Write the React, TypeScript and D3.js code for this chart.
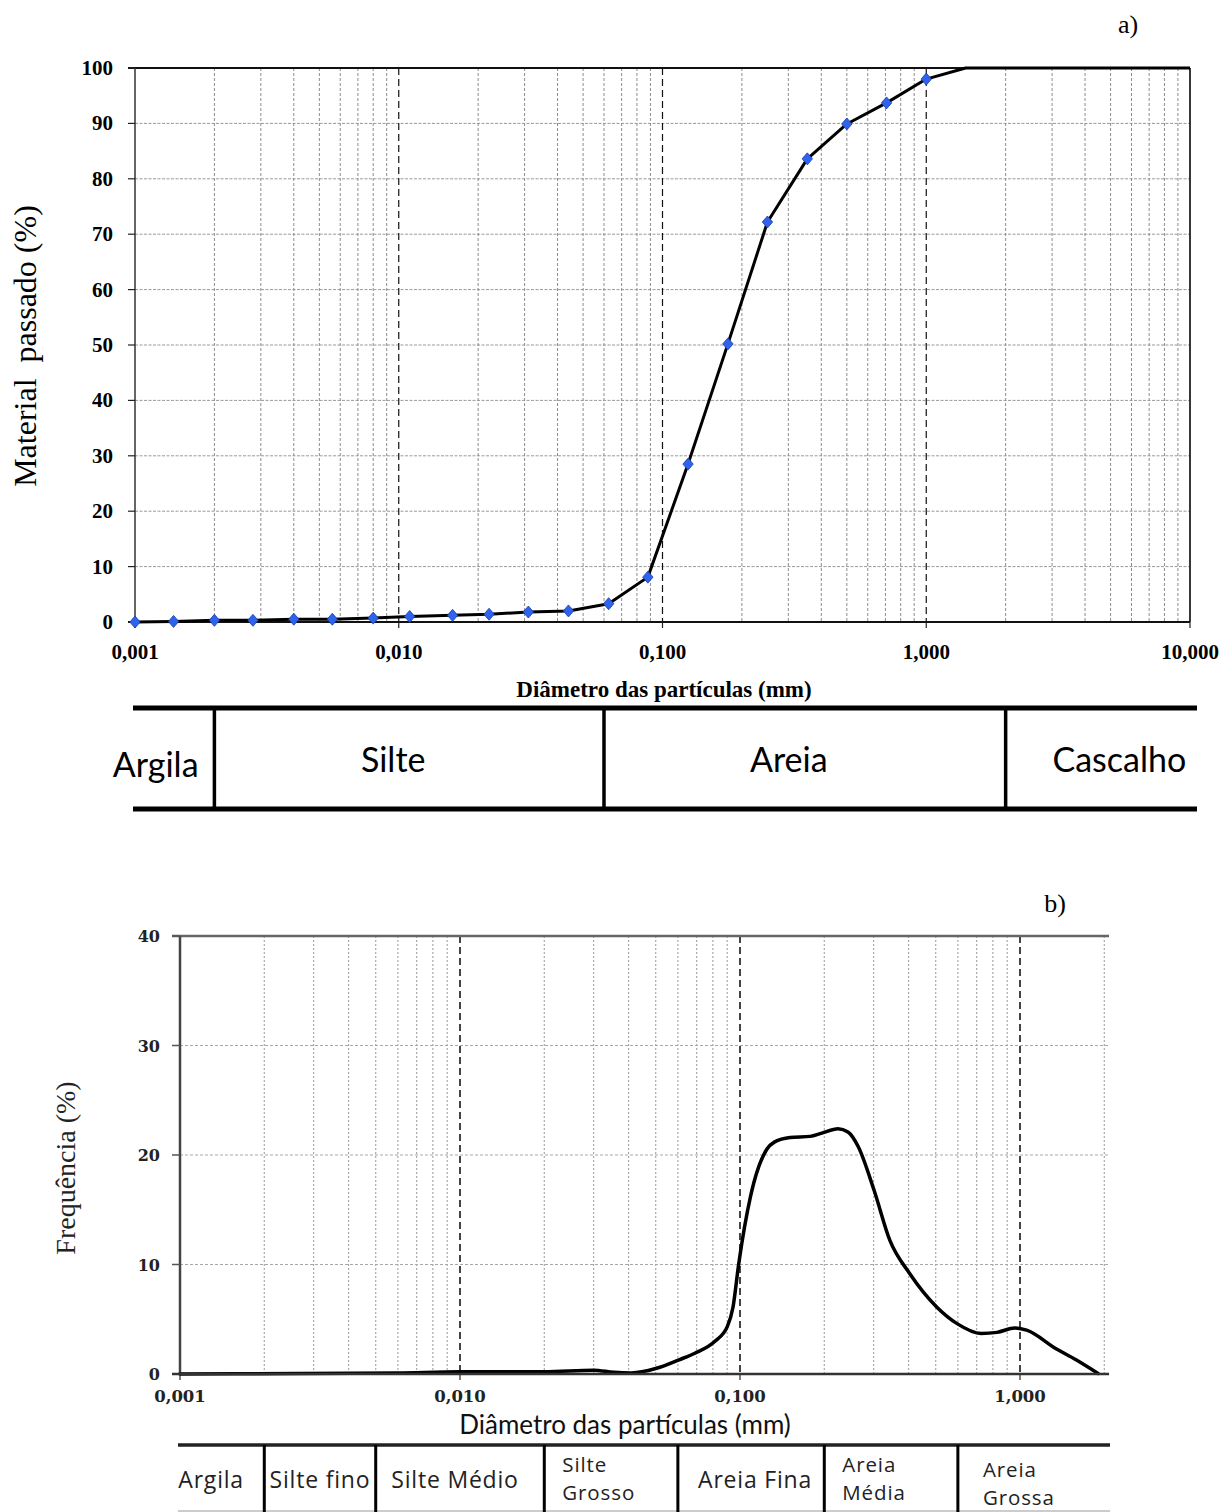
import React from 'react';
import * as d3 from 'd3';

// ---------- Chart a) : cumulative grading curve ----------
const sieveSizes = [0.001, 0.0014, 0.002, 0.0028, 0.004, 0.0056, 0.008, 0.011, 0.016, 0.022, 0.031, 0.044, 0.0625, 0.088, 0.125, 0.177, 0.25, 0.354, 0.5, 0.707, 1.0];
const percentPassing = [0, 0.1, 0.3, 0.3, 0.5, 0.5, 0.7, 1.0, 1.2, 1.4, 1.8, 2.0, 3.3, 8.1, 28.5, 50.2, 72.2, 83.6, 89.9, 93.7, 98.0];
const tailSizes = [1.0, 1.41, 10];
const tailPercent = [98.0, 100, 100];
const yTicksA = [0, 10, 20, 30, 40, 50, 60, 70, 80, 90, 100];
const xTicksA = [0.001, 0.01, 0.1, 1, 10];
const classesA = ['Argila', 'Silte', 'Areia', 'Cascalho'];
const limitsA = [0.002, 0.06, 2];

// ---------- Chart b) : frequency curve ----------
const freqSizes = [0.001, 0.0027, 0.006, 0.01, 0.02, 0.03, 0.0355, 0.041, 0.05, 0.0606, 0.069, 0.0814, 0.09, 0.0944, 0.099, 0.109, 0.1245, 0.133, 0.151, 0.178, 0.196, 0.224, 0.243, 0.264, 0.301, 0.343, 0.403, 0.505, 0.596, 0.726, 0.828, 0.957, 1.056, 1.345, 1.585, 1.9];
const freqValues = [0.0, 0.05, 0.1, 0.2, 0.2, 0.35, 0.15, 0.1, 0.5, 1.3, 1.9, 3.0, 4.3, 6.1, 10.1, 16.2, 20.5, 21.2, 21.6, 21.7, 22.0, 22.4, 22.1, 20.8, 16.8, 12.2, 9.2, 6.1, 4.6, 3.7, 3.8, 4.2, 4.0, 2.3, 1.3, 0.05];
const yTicksB = [0, 10, 20, 30, 40];
const xTicksB = [0.001, 0.01, 0.1, 1];
const classesB = [['Argila'], ['Silte fino'], ['Silte Médio'], ['Silte', 'Grosso'], ['Areia Fina'], ['Areia', 'Média'], ['Areia', 'Grossa']];
const limitsB = [0.002, 0.005, 0.02, 0.06, 0.2, 0.6];

const W = 1223;
const H = 1512;
const SERIF = '"Liberation Serif", "Times New Roman", serif';
const SERIF_B = '"DejaVu Serif", serif';
const SANS = 'Lato, "Open Sans", sans-serif';
const SANS_W = '"Open Sans", Lato, sans-serif';

const fmt = (v: number) => d3.format('.3f')(v).replace('.', ',');

function minors(decades: number[], maxV: number) {
  const out: number[] = [];
  decades.forEach((d) => {
    for (let m = 2; m <= 9; m++) {
      const v = d * m;
      if (v <= maxV * 1.0001) out.push(v);
    }
  });
  return out;
}

const diamond = 'M0,-6L5.2,0L0,6L-5.2,0Z';

export default function App() {
  // scales chart a
  const ax = d3.scaleLog().domain([0.001, 10]).range([135, 1190]);
  const ay = d3.scaleLinear().domain([0, 100]).range([622, 68]);
  // scales chart b
  const bEnd = 2.08;
  const bx = d3.scaleLog().domain([0.001, bEnd]).range([180, 180 + 280 * Math.log10(bEnd / 0.001)]);
  const by = d3.scaleLinear().domain([0, 40]).range([1374, 936]);

  const lineA = d3.line<number>().x((d, i) => ax(sieveSizes[i])).y((d) => ay(d));
  const tailLine = d3.line<number>().x((d, i) => ax(tailSizes[i])).y((d) => ay(d));
  const lineB = d3
    .line<number>()
    .x((d, i) => bx(freqSizes[i]))
    .y((d) => by(d))
    .curve(d3.curveMonotoneX);

  const minorA = minors([0.001, 0.01, 0.1, 1], 10).filter((v) => v < 10);
  const minorB = minors([0.001, 0.01, 0.1, 1], bEnd);

  const aL = ax(0.001), aR = ax(10), aT = ay(100), aB = ay(0);
  const bL = bx(0.001), bR = bx(bEnd), bT = by(40), bB = by(0);

  // table a geometry
  const tAx0 = 133, tAx1 = 1197, tAy0 = 708, tAy1 = 809;
  const edgesA = [tAx0, ...limitsA.map((v) => ax(v)), tAx1];
  const labelShiftA = [-18, -16, -16, 18];

  // table b geometry
  const tBx0 = 178, tBx1 = 1110, tBy0 = 1445, tBy1 = 1511;
  const edgesB = [tBx0, ...limitsB.map((v) => bx(v)), tBx1];
  const labelShiftB = [-10, 0, -5, 0, 4, 0, 0];

  return (
    <svg width={W} height={H} style={{ position: 'absolute', left: 0, top: 0, background: '#fff' }}>
      <rect x={0} y={0} width={W} height={H} fill="#fff" />

      {/* ================= Chart a ================= */}
      <text x={1128} y={33} fontFamily={SERIF} fontSize={26} textAnchor="middle">a)</text>

      {/* horizontal grid */}
      {yTicksA.filter((t) => t > 0 && t < 100).map((t) => (
        <line key={'ha' + t} x1={aL} x2={aR} y1={ay(t)} y2={ay(t)} stroke="#9a9a9a" strokeWidth={1} strokeDasharray="3,1.5" />
      ))}
      {/* minor vertical grid */}
      {minorA.map((v) => (
        <line key={'va' + v} x1={ax(v)} x2={ax(v)} y1={aT} y2={aB} stroke="#8c8c8c" strokeWidth={1} strokeDasharray="3,2" />
      ))}
      {/* decade lines */}
      {xTicksA.filter((v) => v > 0.001 && v < 10).map((v) => (
        <line key={'da' + v} x1={ax(v)} x2={ax(v)} y1={aT} y2={aB} stroke="#111" strokeWidth={1.2} strokeDasharray="7,4" />
      ))}
      {/* frame */}
      <line x1={128} x2={aR} y1={aT} y2={aT} stroke="#111" strokeWidth={2} />
      <line x1={aR} x2={aR} y1={aT} y2={aB} stroke="#222" strokeWidth={1.8} />
      <line x1={aL} x2={aL} y1={aT} y2={aB} stroke="#333" strokeWidth={1.5} />
      <line x1={128} x2={aR} y1={aB} y2={aB} stroke="#111" strokeWidth={2} />
      {yTicksA.map((t) => (
        <line key={'yta' + t} x1={128} x2={aL} y1={ay(t)} y2={ay(t)} stroke="#222" strokeWidth={1.2} />
      ))}
      {xTicksA.map((v) => (
        <line key={'xta' + v} x1={ax(v)} x2={ax(v)} y1={aB} y2={aB + 6} stroke="#222" strokeWidth={1.2} />
      ))}
      {/* tick labels */}
      {yTicksA.map((t) => (
        <text key={'yla' + t} x={113} y={ay(t) + 7} fontFamily={SERIF} fontWeight="bold" fontSize={21} textAnchor="end">{t}</text>
      ))}
      {xTicksA.map((v) => (
        <text key={'xla' + v} x={ax(v)} y={659} fontFamily={SERIF} fontWeight="bold" fontSize={21} textAnchor="middle">{fmt(v)}</text>
      ))}
      {/* titles */}
      <text transform="translate(36,346) rotate(-90)" fontFamily={SERIF} fontSize={32} textAnchor="middle" style={{ whiteSpace: 'pre' }}>Material  passado (%)</text>
      <text x={664} y={697} fontFamily={SERIF} fontWeight="bold" fontSize={23} textAnchor="middle">Diâmetro das partículas (mm)</text>

      {/* curve */}
      <path d={tailLine(tailPercent) || ''} fill="none" stroke="#000" strokeWidth={3} strokeLinejoin="round" />
      <path d={lineA(percentPassing) || ''} fill="none" stroke="#000" strokeWidth={3} strokeLinejoin="round" />
      {percentPassing.map((p, i) => (
        <path key={'mk' + i} d={diamond} transform={`translate(${ax(sieveSizes[i])},${ay(p)})`} fill="#2e63f0" stroke="#1b3b9e" strokeWidth={0.8} />
      ))}

      {/* table a */}
      <line x1={tAx0} x2={tAx1} y1={tAy0} y2={tAy0} stroke="#000" strokeWidth={5} />
      <line x1={tAx0} x2={tAx1} y1={tAy1} y2={tAy1} stroke="#000" strokeWidth={5} />
      {limitsA.map((v) => (
        <line key={'tla' + v} x1={ax(v)} x2={ax(v)} y1={tAy0} y2={tAy1} stroke="#000" strokeWidth={3.5} />
      ))}
      {classesA.map((c, i) => (
        <text key={'ca' + c} x={(edgesA[i] + edgesA[i + 1]) / 2 + labelShiftA[i]} y={i === 0 ? 777 : 772} fontFamily={SANS} fontSize={34} textAnchor="middle" fill="#000">{c}</text>
      ))}

      {/* ================= Chart b ================= */}
      <text x={1055} y={912} fontFamily={SERIF} fontSize={26} textAnchor="middle">b)</text>

      {yTicksB.filter((t) => t > 0 && t < 40).map((t) => (
        <line key={'hb' + t} x1={bL} x2={bR} y1={by(t)} y2={by(t)} stroke="#a8a8a8" strokeWidth={1.2} strokeDasharray="3,2" />
      ))}
      {minorB.map((v) => (
        <line key={'vb' + v} x1={bx(v)} x2={bx(v)} y1={bT} y2={bB} stroke="#a8a8a8" strokeWidth={1.2} strokeDasharray="2,2" />
      ))}
      {xTicksB.filter((v) => v > 0.001).map((v) => (
        <line key={'db' + v} x1={bx(v)} x2={bx(v)} y1={bT} y2={bB} stroke="#444" strokeWidth={2} strokeDasharray="7,4" />
      ))}
      <line x1={172} x2={bR} y1={bT} y2={bT} stroke="#666" strokeWidth={2.5} />
      <line x1={bL} x2={bL} y1={bT} y2={bB} stroke="#444" strokeWidth={2.5} />
      {yTicksB.map((t) => (
        <line key={'ytb' + t} x1={172} x2={bL} y1={by(t)} y2={by(t)} stroke="#555" strokeWidth={1.5} />
      ))}
      {xTicksB.map((v) => (
        <line key={'xtb' + v} x1={bx(v)} x2={bx(v)} y1={bB} y2={bB + 6} stroke="#555" strokeWidth={1.5} />
      ))}
      {yTicksB.map((t) => (
        <text key={'ylb' + t} x={160} y={by(t) + 6} fontFamily={SERIF_B} fontWeight="bold" fontSize={16} textAnchor="end" fill="#222">{t}</text>
      ))}
      {xTicksB.map((v) => (
        <text key={'xlb' + v} x={bx(v)} y={1402} fontFamily={SERIF_B} fontWeight="bold" fontSize={16.5} textAnchor="middle" fill="#222">{fmt(v)}</text>
      ))}
      <text transform="translate(75,1168) rotate(-90)" fontFamily={SERIF} fontSize={28} textAnchor="middle" fill="#222">Frequência (%)</text>
      <text x={625} y={1434} fontFamily={SANS} fontSize={26} textAnchor="middle" fill="#111">Diâmetro das partículas (mm)</text>

      <path d={lineB(freqValues) || ''} fill="none" stroke="#000" strokeWidth={3.5} strokeLinejoin="round" strokeLinecap="round" />
      <line x1={172} x2={bR} y1={bB} y2={bB} stroke="#333" strokeWidth={2.5} />

      {/* table b */}
      <line x1={tBx0} x2={tBx1} y1={tBy0} y2={tBy0} stroke="#222" strokeWidth={3.5} />
      <line x1={tBx0} x2={tBx1} y1={tBy1} y2={tBy1} stroke="#bbb" strokeWidth={1.5} />
      {limitsB.map((v) => (
        <line key={'tlb' + v} x1={bx(v)} x2={bx(v)} y1={tBy0} y2={H} stroke="#000" strokeWidth={3} />
      ))}
      {classesB.map((lines, i) => {
        const x0 = edgesB[i], x1 = edgesB[i + 1];
        if (lines.length === 1) {
          return (
            <text key={'cb' + i} x={(x0 + x1) / 2 + labelShiftB[i]} y={1488} fontFamily={SANS_W} fontSize={23} letterSpacing={0.8} textAnchor="middle" fill="#222">{lines[0]}</text>
          );
        }
        const base = i === 6 ? 1477 : 1472;
        return (
          <g key={'cb' + i}>
            {lines.map((l, j) => (
              <text key={j} x={x0 + (i === 6 ? 25 : 18)} y={base + j * 28} fontFamily={SANS_W} fontSize={20.5} letterSpacing={0.9} fill="#222">{l}</text>
            ))}
          </g>
        );
      })}
    </svg>
  );
}
